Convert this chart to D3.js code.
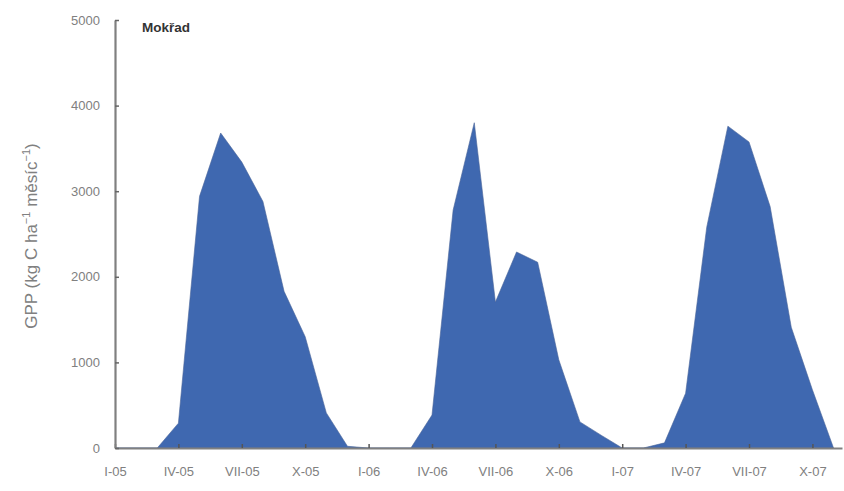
<!DOCTYPE html>
<html>
<head>
<meta charset="utf-8">
<script src="https://cdn.jsdelivr.net/npm/d3@7"></script>
<style>
  html, body { margin: 0; padding: 0; background: #fff; }
  svg { display: block; }
</style>
</head>
<body>
<svg id="chart" width="844" height="491"></svg>
<script>
const months = [
  "I-05","II-05","III-05","IV-05","V-05","VI-05","VII-05","VIII-05","IX-05","X-05","XI-05","XII-05",
  "I-06","II-06","III-06","IV-06","V-06","VI-06","VII-06","VIII-06","IX-06","X-06","XI-06","XII-06",
  "I-07","II-07","III-07","IV-07","V-07","VI-07","VII-07","VIII-07","IX-07","X-07","XI-07"
];
const gpp = [
  0, 0, 0, 290, 2940, 3680, 3340, 2880, 1830, 1300, 410, 20,
  0, 0, 0, 385, 2780, 3800, 1705, 2290, 2170, 1030, 305, 150,
  0, 0, 60, 640, 2580, 3760, 3575, 2820, 1410, 680, 0
];
const tickLabels = ["I-05","IV-05","VII-05","X-05","I-06","IV-06","VII-06","X-06","I-07","IV-07","VII-07","X-07"];
const yTicks = [0, 1000, 2000, 3000, 4000, 5000];
const panelTitle = "Mokřad";

const svg = d3.select("#chart");
const x = d3.scaleLinear().domain([0, 34.4]).range([115, 842]);
const y = d3.scaleLinear().domain([0, 5000]).range([448, 20]);

const data = months.map((m, i) => ({ m, i, v: gpp[i] }));

svg.append("path")
  .datum(data)
  .attr("d", d3.area().x(d => x(d.i)).y0(y(0)).y1(d => y(d.v)))
  .attr("fill", "#3f68b0")
  .attr("stroke", "#4a6598")
  .attr("stroke-width", 0.6);

const tickIdx = tickLabels.map(t => months.indexOf(t));

const xAxis = svg.append("g")
  .attr("transform", `translate(0,${y(0)})`)
  .call(d3.axisBottom(x).tickValues(tickIdx).tickFormat(i => months[i])
        .tickSizeInner(-4).tickSizeOuter(0).tickPadding(19));
xAxis.select(".domain").attr("stroke", "#808080").attr("stroke-width", 2.2);
xAxis.selectAll(".tick line").attr("stroke", "#555").attr("stroke-width", 1.5);
xAxis.selectAll(".tick text").attr("fill", "#808080").attr("font-family", "Liberation Sans, Arial, sans-serif").attr("font-size", 13);

const yAxis = svg.append("g")
  .attr("transform", `translate(${x(0)},0)`)
  .call(d3.axisLeft(y).tickValues(yTicks).tickFormat(d3.format("d"))
        .tickSizeInner(-4).tickSizeOuter(0).tickPadding(15));
yAxis.select(".domain").attr("stroke", "#808080").attr("stroke-width", 2.2);
yAxis.selectAll(".tick line").attr("stroke", "#666").attr("stroke-width", 1.5);
yAxis.selectAll(".tick text").attr("fill", "#808080").attr("font-family", "Liberation Sans, Arial, sans-serif").attr("font-size", 13);

// y-axis title
const yt = svg.append("text")
  .attr("transform", "translate(37,236) rotate(-90)")
  .attr("text-anchor", "middle")
  .attr("fill", "#808080")
  .attr("font-family", "Liberation Sans, Arial, sans-serif")
  .attr("font-size", 17);
yt.append("tspan").text("GPP (kg C ha");
yt.append("tspan").attr("dy", -7).attr("font-size", 11).text("−1");
yt.append("tspan").attr("dy", 7).text(" měsíc");
yt.append("tspan").attr("dy", -7).attr("font-size", 11).text("−1");
yt.append("tspan").attr("dy", 7).text(")");

svg.append("text")
  .attr("x", 142).attr("y", 32)
  .attr("fill", "#333")
  .attr("font-family", "Liberation Sans, Arial, sans-serif")
  .attr("font-weight", "bold")
  .attr("font-size", 13.5)
  .text(panelTitle);
</script>
</body>
</html>
